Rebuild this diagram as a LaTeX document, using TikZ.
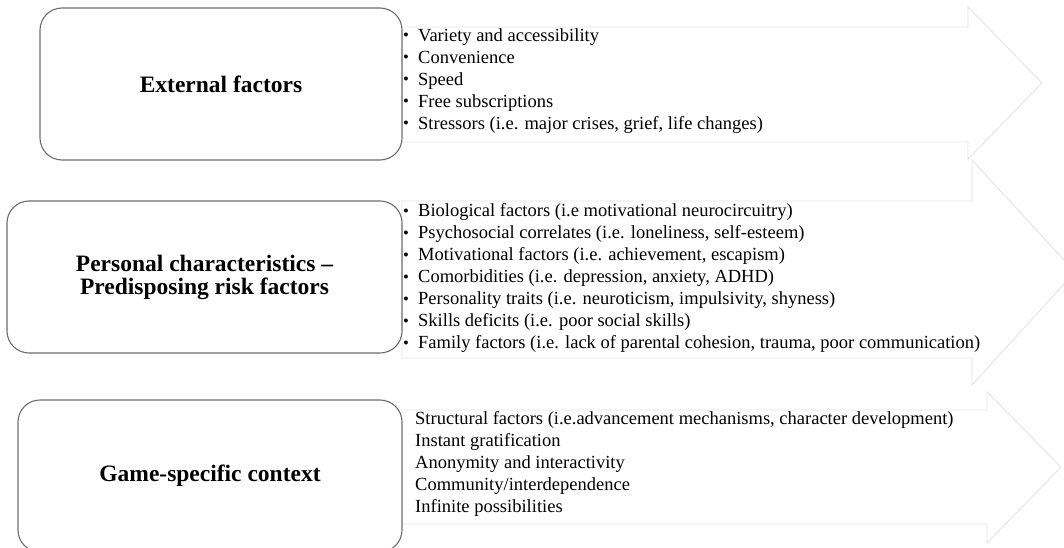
\documentclass[tikz,border=0pt]{standalone}
\usepackage{fontspec}
\setmainfont{Liberation Serif}
\definecolor{arrowline}{HTML}{E2E4EC}
\definecolor{boxline}{HTML}{6E6E6E}
\newcommand{\itm}[1]{\makebox[15pt][l]{\raisebox{0.5pt}{\scalebox{0.9}{•}}}#1}
\begin{document}
\begin{tikzpicture}[x=1pt,y=-1pt,
  arrowshape/.style={draw=arrowline, fill=white, line width=0.9pt, line join=miter},
  titlebox/.style={draw=boxline, fill=white, line width=1.1pt, rounded corners=22pt,
    inner sep=0pt, align=center, minimum height=152pt,
    font=\fontsize{23.5}{23}\selectfont\bfseries},
  listtext/.style={font=\fontsize{18.5}{22}\selectfont, align=left, anchor=west, inner sep=0pt}]
\clip (0,0) rectangle (1064,548);
\fill[white] (0,0) rectangle (1064,548);
% arrows
\draw[arrowshape] (402,27) -- (968,27) -- (968,7) -- (1042,83) -- (968,159) -- (968,142) -- (402,142) -- cycle;
\draw[arrowshape] (402,201) -- (972,201) -- (972,160) -- (1075,272) -- (972,385) -- (972,358) -- (402,358) -- cycle;
\draw[arrowshape] (402,410) -- (987,410) -- (987,392) -- (1061,467) -- (987,543) -- (987,524) -- (402,524) -- cycle;
% boxes
\node[titlebox, minimum width=362pt] (ext) at (221,84) {External factors};
\node[titlebox, minimum width=395pt] (pers) at (204.5,277) {Personal characteristics --\\Predisposing risk factors};
\node[titlebox, minimum width=384pt] (game) at (210,476) {Game-specific context};
% lists
\node[listtext] (l1) at (403,81) {\itm{Variety and accessibility}\\
\itm{Convenience}\\
\itm{Speed}\\
\itm{Free subscriptions}\\
\itm{Stressors (i.e. major crises, grief, life changes)}};
\node[listtext] (l2) at (403,278) {\itm{Biological factors (i.e motivational neurocircuitry)}\\
\itm{Psychosocial correlates (i.e. loneliness, self-esteem)}\\
\itm{Motivational factors (i.e. achievement, escapism)}\\
\itm{Comorbidities (i.e. depression, anxiety, ADHD)}\\
\itm{Personality traits (i.e. neuroticism, impulsivity, shyness)}\\
\itm{Skills deficits (i.e. poor social skills)}\\
\itm{Family factors (i.e. lack of parental cohesion, trauma, poor communication)}};
\node[listtext] (l3) at (415,464) {Structural factors (i.e.advancement mechanisms, character development)\\
Instant gratification\\
Anonymity and interactivity\\
Community/interdependence\\
Infinite possibilities};
\end{tikzpicture}
\end{document}
